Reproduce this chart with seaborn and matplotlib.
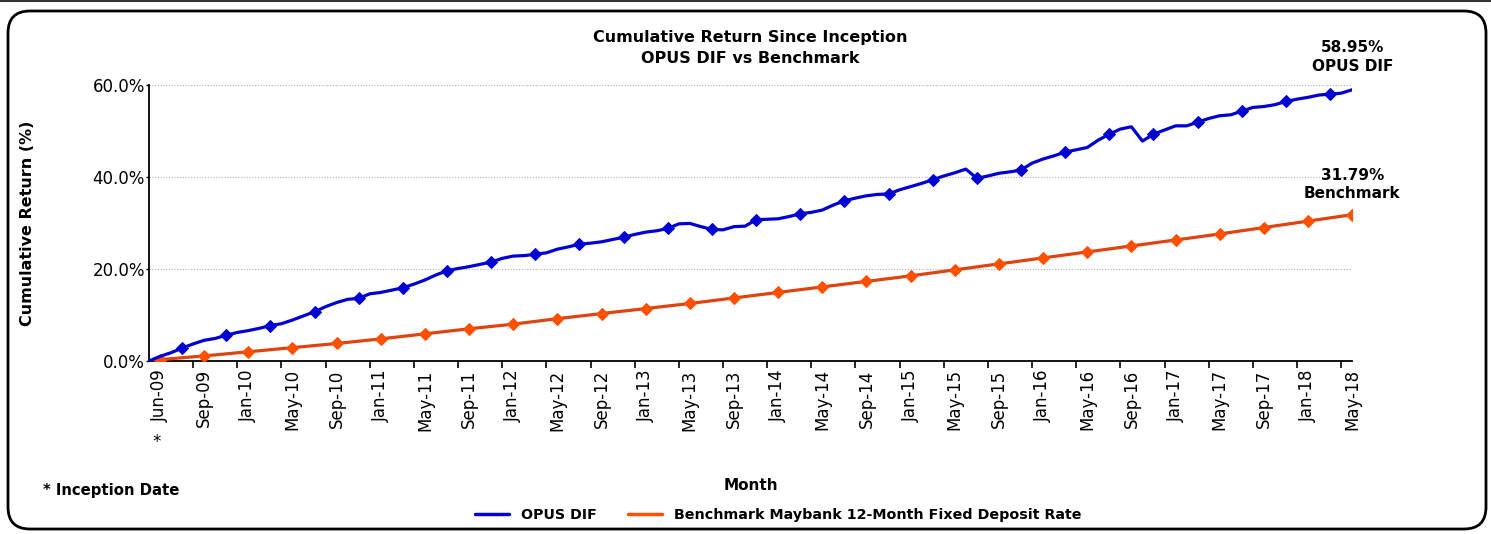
import numpy as np
import pandas as pd
import matplotlib
matplotlib.use("Agg")
import matplotlib.pyplot as plt
import seaborn as sns
from matplotlib.lines import Line2D
from matplotlib.patches import FancyBboxPatch

# monthly cumulative return (%), index 0 = inception
opus_dif = [0.0, 1.0, 1.8, 2.8, 3.7, 4.5, 4.9, 5.6, 6.2, 6.6,
            7.1, 7.7, 8.1, 8.9, 9.8, 10.7, 11.8, 12.7, 13.4, 13.6,
            14.6, 14.9, 15.4, 15.9, 16.7, 17.6, 18.7, 19.6, 20.1, 20.5,
            21.0, 21.5, 22.3, 22.8, 22.9, 23.2, 23.5, 24.3, 24.8, 25.4,
            25.6, 25.9, 26.4, 26.9, 27.5, 28.0, 28.3, 28.8, 29.8, 29.9,
            29.2, 28.6, 28.5, 29.2, 29.3, 30.7, 30.8, 30.9, 31.4, 32.0,
            32.3, 32.8, 33.9, 34.8, 35.4, 35.9, 36.2, 36.3, 37.2, 37.9,
            38.6, 39.4, 40.2, 40.9, 41.7, 39.7, 40.2, 40.8, 41.1, 41.5,
            43.0, 43.9, 44.6, 45.4, 45.9, 46.4, 48.0, 49.3, 50.4, 50.9,
            47.8, 49.3, 50.2, 51.1, 51.1, 51.9, 52.7, 53.3, 53.5, 54.3,
            55.1, 55.3, 55.7, 56.4, 56.9, 57.3, 57.8, 58.0, 58.2, 58.95]

benchmark = [0.00, 0.30, 0.50, 0.70, 0.90, 1.10, 1.32, 1.55, 1.78, 2.00,
             2.22, 2.45, 2.68, 2.90, 3.12, 3.35, 3.58, 3.80, 4.05, 4.30,
             4.55, 4.80, 5.08, 5.35, 5.62, 5.90, 6.18, 6.45, 6.72, 7.00,
             7.25, 7.50, 7.75, 8.00, 8.30, 8.60, 8.90, 9.20, 9.48, 9.75,
             10.02, 10.30, 10.58, 10.85, 11.12, 11.40, 11.68, 11.95, 12.22, 12.50,
             12.80, 13.10, 13.40, 13.70, 14.00, 14.30, 14.60, 14.90, 15.20, 15.50,
             15.80, 16.10, 16.40, 16.70, 17.00, 17.30, 17.60, 17.90, 18.20, 18.50,
             18.82, 19.15, 19.48, 19.80, 20.12, 20.45, 20.78, 21.10, 21.42, 21.75,
             22.08, 22.40, 22.72, 23.05, 23.38, 23.70, 24.02, 24.35, 24.68, 25.00,
             25.32, 25.65, 25.98, 26.30, 26.62, 26.95, 27.28, 27.60, 27.95, 28.30,
             28.65, 29.00, 29.35, 29.70, 30.05, 30.40, 30.75, 31.10, 31.45, 31.79]

tick_labels = ['Jun-09', 'Sep-09', 'Jan-10', 'May-10', 'Sep-10', 'Jan-11', 'May-11',
               'Sep-11', 'Jan-12', 'May-12', 'Sep-12', 'Jan-13', 'May-13', 'Sep-13',
               'Jan-14', 'May-14', 'Sep-14', 'Jan-15', 'May-15', 'Sep-15', 'Jan-16',
               'May-16', 'Sep-16', 'Jan-17', 'May-17', 'Sep-17', 'Jan-18', 'May-18']

blue = '#0000d2'
orange_line = '#de4410'
orange_mark = '#ff5000'

df = pd.DataFrame({'month': np.arange(len(opus_dif)),
                   'OPUS DIF': opus_dif,
                   'Benchmark': benchmark})

sns.set_style("white")
plt.rcParams['font.family'] = ['DejaVu Sans']
plt.rcParams['text.color'] = 'black'
plt.rcParams['xtick.color'] = 'black'
plt.rcParams['ytick.color'] = 'black'
plt.rcParams['axes.labelcolor'] = 'black'

fig = plt.figure(figsize=(14.91, 5.34), dpi=100)
ax = fig.add_axes([0.0999, 0.324, 0.807, 0.517])

sns.lineplot(data=df, x='month', y='Benchmark', ax=ax, color=orange_line, lw=2.3,
             marker='D', markersize=6, markerfacecolor=orange_mark,
             markeredgecolor=orange_mark, markevery=slice(1, None, 4), zorder=3)
sns.lineplot(data=df, x='month', y='OPUS DIF', ax=ax, color=blue, lw=2.3,
             marker='D', markersize=6, markerfacecolor=blue,
             markeredgecolor=blue, markevery=slice(3, None, 4), zorder=4)

ax.set_xlim(0, len(opus_dif) - 1)
ax.set_ylim(0, 60)
ax.set_yticks([0, 20, 40, 60])
ax.set_yticklabels(['0.0%', '20.0%', '40.0%', '60.0%'], fontsize=12)
ax.yaxis.grid(True, color='#b0b0b0', linestyle=(0, (1, 1.5)), lw=0.8)
ax.xaxis.grid(False)

# tick marks sit one month before each label
ax.set_xticks(np.arange(4, len(opus_dif), 4))
ax.set_xticklabels([])
label_pos = [1] + list(np.arange(5, len(opus_dif), 4))
ax.set_xticks(label_pos, minor=True)
ax.set_xticklabels(tick_labels, minor=True, rotation=90, fontsize=12)
ax.tick_params(axis='x', which='major', length=5, width=1.2, direction='out', bottom=True)
ax.tick_params(axis='x', which='minor', length=0, pad=6)
ax.tick_params(axis='y', length=2, width=1, left=True, pad=1)

for s in ['top', 'right']:
    ax.spines[s].set_visible(False)
for s in ['left', 'bottom']:
    ax.spines[s].set_color('black')
    ax.spines[s].set_linewidth(1.3)

ax.set_xlabel('')
ax.set_ylabel('Cumulative Return (%)', fontsize=11.5, fontweight='bold')
ax.yaxis.set_label_coords(-0.0948, 0.5)

ax.set_title('Cumulative Return Since Inception\nOPUS DIF vs Benchmark',
             fontsize=11.5, fontweight='bold', pad=16, linespacing=1.5)

ax.annotate('58.95%\nOPUS DIF', xy=(len(opus_dif) - 1, opus_dif[-1]), xytext=(0, 11),
            textcoords='offset points', ha='center', va='bottom', fontsize=11,
            fontweight='bold', linespacing=1.35, annotation_clip=False)
ax.annotate('31.79%\nBenchmark', xy=(len(benchmark) - 1, benchmark[-1]), xytext=(0, 10),
            textcoords='offset points', ha='center', va='bottom', fontsize=11,
            fontweight='bold', linespacing=1.25, annotation_clip=False)

fig.text(157 / 1491, 1 - 442 / 534, '*', ha='center', va='center', fontsize=12)
fig.text(751 / 1491, 1 - 485 / 534, 'Month', ha='center', va='center', fontsize=11, fontweight='bold')
fig.text(43 / 1491, 1 - 490 / 534, '* Inception Date', ha='left', va='center', fontsize=10.7, fontweight='bold')

handles = [Line2D([], [], color=blue, lw=2.5),
           Line2D([], [], color=orange_mark, lw=2.5)]
fig.legend(handles, ['OPUS DIF', 'Benchmark Maybank 12-Month Fixed Deposit Rate'],
           loc='center', bbox_to_anchor=(778 / 1491, 1 - 515 / 534), ncol=2, frameon=False,
           prop={'weight': 'bold', 'size': 10.3}, handlelength=2.4, columnspacing=2.2)

# rounded frame around the chart
frame = FancyBboxPatch((0.08, 0.05), 14.78, 5.18,
                       boxstyle="round,pad=0,rounding_size=0.22",
                       transform=fig.dpi_scale_trans, fill=False, lw=2, ec='black')
fig.add_artist(frame)
fig.add_artist(Line2D([0, 1], [0.999, 0.999], transform=fig.transFigure, color='#333333', lw=1.5))

fig.savefig('out.png', dpi=100)
